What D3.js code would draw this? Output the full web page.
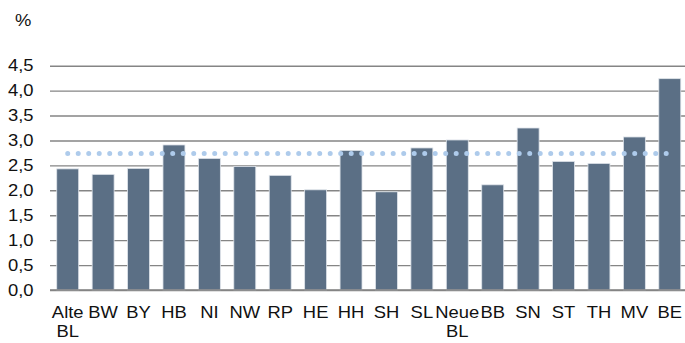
<!DOCTYPE html>
<html>
<head>
<meta charset="utf-8">
<script src="https://cdn.jsdelivr.net/npm/d3@7/dist/d3.min.js"></script>
<style>
  html, body { margin: 0; padding: 0; background: #fff; }
  svg { display: block; }
  text { font-family: "Liberation Sans", Arial, sans-serif; fill: #111; }
</style>
</head>
<body>
<svg id="chart" width="685" height="343"></svg>
<script>
// Länder categories (two-line labels are split on "\n")
const categories = ["Alte\nBL", "BW", "BY", "HB", "NI", "NW", "RP", "HE", "HH", "SH", "SL",
                    "Neue\nBL", "BB", "SN", "ST", "TH", "MV", "BE"];
// Values in percent
const values = [2.43, 2.32, 2.44, 2.91, 2.64, 2.48, 2.30, 2.01, 2.80, 1.97, 2.85,
                3.01, 2.11, 3.25, 2.58, 2.54, 3.07, 4.24];
// Germany-wide reference level (dotted line)
const average = 2.74;
// Y axis ticks
const yTicks = [0, 0.5, 1.0, 1.5, 2.0, 2.5, 3.0, 3.5, 4.0, 4.5];

const svg = d3.select("#chart");
const W = 685;
const plotLeft = 50, plotRight = 687.5, plotTop = 65.7, plotBottom = 290;
const fontSize = 16, stretch = 1.15;   // labels are set slightly wide

const x = d3.scaleBand()
  .domain(categories)
  .range([plotLeft, plotRight])
  .paddingInner(0.38)
  .paddingOuter(0.19);

const y = d3.scaleLinear()
  .domain([0, 4.5])
  .range([plotBottom, plotTop]);

const fmt = d => d3.format(".1f")(d).replace(".", ",");

// Horizontal gridlines
const grid = svg.append("g")
  .attr("transform", `translate(${plotLeft},0)`)
  .call(d3.axisLeft(y).tickValues(yTicks).tickSize(-(W - plotLeft)).tickFormat(""));
grid.select(".domain").remove();
grid.selectAll("line").attr("stroke", "#858585").attr("stroke-width", 1.4);

// Y tick labels
const yAxis = svg.append("g")
  .attr("transform", `translate(33.5,0)`)
  .call(d3.axisLeft(y).tickValues(yTicks).tickSize(0).tickPadding(0).tickFormat(fmt));
yAxis.select(".domain").remove();
yAxis.selectAll("text")
  .attr("x", null)
  .attr("transform", `scale(${stretch},1)`)
  .attr("font-size", fontSize)
  .attr("fill", "#111")
  .style("font-family", "'Liberation Sans', Arial, sans-serif");

// Unit label
svg.append("text")
  .attr("transform", `translate(15,25.5) scale(${stretch},1)`)
  .attr("font-size", fontSize)
  .text("%");

// Bars
svg.append("g")
  .selectAll("rect")
  .data(values)
  .join("rect")
  .attr("x", (d, i) => x(categories[i]))
  .attr("width", x.bandwidth())
  .attr("y", d => y(d))
  .attr("height", d => y(0) - y(d))
  .attr("fill", "#5b6f85")
  .attr("stroke", "#dfe4ea")
  .attr("stroke-width", 0.8);

// Baseline
svg.append("line")
  .attr("x1", plotLeft).attr("x2", W)
  .attr("y1", y(0)).attr("y2", y(0))
  .attr("stroke", "#858585")
  .attr("stroke-width", 1.4);

// Dotted average line
const first = categories[0], last = categories[categories.length - 1];
svg.append("line")
  .attr("x1", x(first) + x.bandwidth() / 2)
  .attr("x2", x(last) + x.bandwidth() / 2)
  .attr("y1", y(average))
  .attr("y2", y(average))
  .attr("stroke", "#aecbeb")
  .attr("stroke-width", 5)
  .attr("stroke-linecap", "round")
  .attr("stroke-dasharray", "0 10.5");

// X category labels
const xl = svg.append("g")
  .selectAll("text")
  .data(categories)
  .join("text")
  .attr("transform", d => `translate(${x(d) + x.bandwidth() / 2},318) scale(${stretch},1)`)
  .attr("text-anchor", "middle")
  .attr("font-size", fontSize);
xl.each(function(d) {
  const t = d3.select(this);
  d.split("\n").forEach((ln, k) => {
    t.append("tspan")
      .attr("x", 0)
      .attr("dy", k === 0 ? 0 : 19)
      .text(ln);
  });
});
</script>
</body>
</html>
